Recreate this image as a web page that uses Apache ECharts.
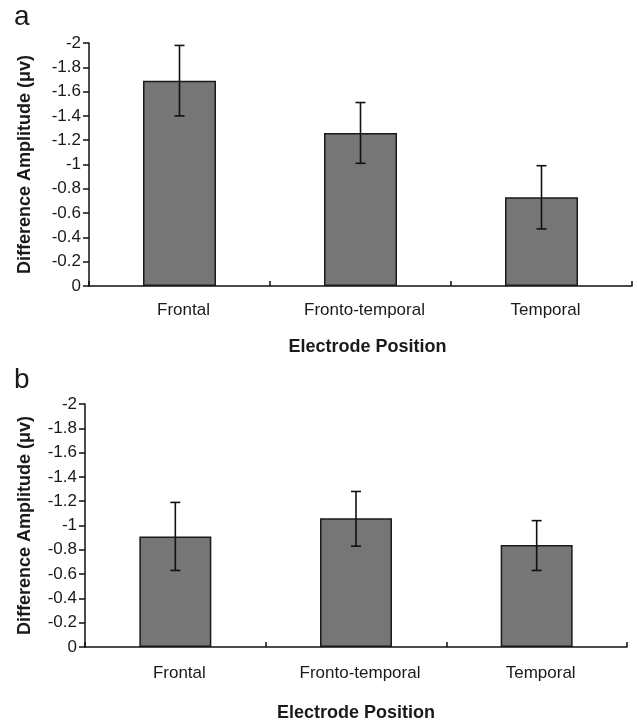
<!DOCTYPE html>
<html>
<head>
<meta charset="utf-8">
<script src="https://cdn.jsdelivr.net/npm/echarts@6/dist/echarts.min.js"></script>
<style>html,body{margin:0;padding:0;background:#fff}#c{width:637px;height:723px}</style>
</head>
<body>
<div id="c"></div>
<script>
var categories = ['Frontal', 'Fronto-temporal', 'Temporal'];
var yTicks = [-2, -1.8, -1.6, -1.4, -1.2, -1, -0.8, -0.6, -0.4, -0.2, 0];
// Panel a
var meanA = [-1.69, -1.26, -0.73];
var errHighA = [-1.98, -1.51, -0.99];
var errLowA = [-1.40, -1.01, -0.47];
// Panel b
var meanB = [-0.91, -1.06, -0.84];
var errHighB = [-1.19, -1.28, -1.04];
var errLowB = [-0.63, -0.83, -0.63];

var FONT = 'Liberation Sans, Arial, Helvetica, sans-serif';
var TXT = '#1a1a1a';

function errData(lo, hi) {
  return categories.map(function (c, i) { return [i, lo[i], hi[i]]; });
}
function errRender(params, api) {
  var x = api.value(0);
  var p1 = api.coord([x, api.value(1)]);
  var p2 = api.coord([x, api.value(2)]);
  var w = 5;
  var st = { stroke: '#111', lineWidth: 1.6 };
  return {
    type: 'group',
    children: [
      { type: 'line', shape: { x1: p1[0], y1: p1[1], x2: p2[0], y2: p2[1] }, style: st },
      { type: 'line', shape: { x1: p1[0] - w, y1: p1[1], x2: p1[0] + w, y2: p1[1] }, style: st },
      { type: 'line', shape: { x1: p2[0] - w, y1: p2[1], x2: p2[0] + w, y2: p2[1] }, style: st }
    ]
  };
}
function xAxis(idx, margin, nameGap, namePad) {
  return {
    type: 'category', gridIndex: idx, data: categories,
    axisLine: { lineStyle: { color: '#111', width: 1.5 } },
    axisTick: { show: true, inside: true, length: 5, lineStyle: { color: '#111', width: 1.5 } },
    axisLabel: { color: TXT, fontFamily: FONT, fontSize: 17, margin: margin, padding: [0, 0, 0, 8] },
    name: 'Electrode Position', nameLocation: 'middle', nameGap: nameGap,
    nameTextStyle: { color: TXT, fontFamily: FONT, fontSize: 18, fontWeight: 'bold', padding: namePad }
  };
}
function yAxis(idx, nameGap) {
  return {
    type: 'value', gridIndex: idx, min: -2, max: 0, interval: 0.2, inverse: true,
    axisLine: { show: true, lineStyle: { color: '#111', width: 1.5 } },
    axisTick: { show: true, length: 6, lineStyle: { color: '#111', width: 1.5 } },
    splitLine: { show: false },
    axisLabel: { color: TXT, fontFamily: FONT, fontSize: 17, margin: 8,
      formatter: function (v) { return String(Math.round(v * 10) / 10); } },
    name: 'Difference Amplitude (\u03bcv)', nameLocation: 'middle', nameGap: nameGap,
    nameTextStyle: { color: TXT, fontFamily: FONT, fontSize: 18, fontWeight: 'bold' }
  };
}
var barStyle = { color: '#767676', borderColor: '#1a1a1a', borderWidth: 1.5 };

var chart = echarts.init(document.getElementById('c'));
chart.setOption({
  animation: false,
  backgroundColor: '#fff',
  grid: [
    { left: 89, top: 43, width: 543, height: 243 },
    { left: 85, top: 404, width: 542, height: 243 }
  ],
  xAxis: [xAxis(0, 16, 52, [0, 0, 0, 14]), xAxis(1, 18, 57, [0, 0, 0, 0])],
  yAxis: [yAxis(0, 55), yAxis(1, 51)],
  graphic: [
    { type: 'text', left: 14, top: 3, style: { text: 'a', font: '28px ' + FONT, fill: TXT } },
    { type: 'text', left: 14, top: 366, style: { text: 'b', font: '28px ' + FONT, fill: TXT } }
  ],
  series: [
    { type: 'bar', xAxisIndex: 0, yAxisIndex: 0, data: meanA, barWidth: 73, itemStyle: barStyle },
    { type: 'custom', xAxisIndex: 0, yAxisIndex: 0, data: errData(errLowA, errHighA), renderItem: errRender, z: 10 },
    { type: 'bar', xAxisIndex: 1, yAxisIndex: 1, data: meanB, barWidth: 72, itemStyle: barStyle },
    { type: 'custom', xAxisIndex: 1, yAxisIndex: 1, data: errData(errLowB, errHighB), renderItem: errRender, z: 10 }
  ]
});
</script>
</body>
</html>
